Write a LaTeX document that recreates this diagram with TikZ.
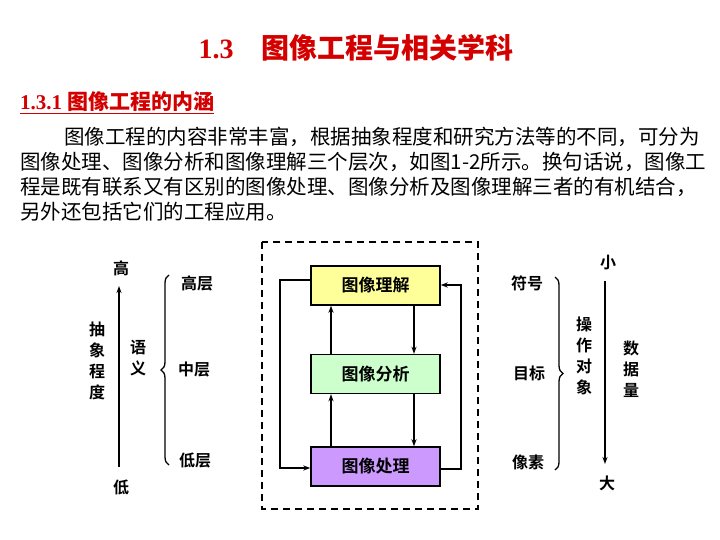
\documentclass[tikz,border=0pt]{standalone}
\usepackage{fontspec}
\setmainfont{Liberation Serif}
\newfontfamily\cjk{Noto Sans CJK SC}
\newfontfamily\cjkb{Noto Sans CJK SC Bold}
\usetikzlibrary{decorations.pathreplacing,arrows.meta}
\definecolor{ttl}{HTML}{D40000}
\definecolor{ylw}{HTML}{FFFF99}
\definecolor{grn}{HTML}{CCFFCC}
\definecolor{prp}{HTML}{CC99FF}
\begin{document}
\begin{tikzpicture}[x=1pt,y=-1pt,
  lbl/.style={font=\fontsize{16}{18}\selectfont\cjkb, inner sep=0pt},
  vlbl/.style={font=\fontsize{16}{21}\selectfont\cjkb, inner sep=0pt, align=center},
  box/.style={draw, line width=1.4pt, minimum width=129pt, minimum height=39pt, font=\fontsize{17}{19}\selectfont\cjkb},
  para/.style={font=\fontsize{20.5}{22}\selectfont\cjk, inner sep=0pt, anchor=west},
  arr/.style={line width=1.3pt, -{Stealth[length=7pt,width=5pt]}},
  brc/.style={line width=1.3pt, decorate, decoration={brace, amplitude=8pt, aspect=0.5}}]
\useasboundingbox[fill=white] (0,0) rectangle (720,540);
\node[text=ttl, font=\fontsize{28}{30}\selectfont\bfseries] (title) at (356,48) {1.3\quad{\cjkb 图像工程与相关学科}};
\node[text=ttl, anchor=west, inner sep=0pt, font=\fontsize{21}{23}\selectfont\bfseries] (sub) at (20,103) {\underline{1.3.1 {\cjkb 图像工程的内涵}}};
\node[para] (p1) at (64,137) {图像工程的内容非常丰富，根据抽象程度和研究方法等的不同，可分为};
\node[para] (p2) at (20,162) {图像处理、图像分析和图像理解三个层次，如图1-2所示。换句话说，图像工};
\node[para] (p3) at (20,187) {程是既有联系又有区别的图像处理、图像分析及图像理解三者的有机结合，};
\node[para] (p4) at (20,212) {另外还包括它们的工程应用。};
% dashed frame
\draw[line width=1.4pt, dash pattern=on 7pt off 5pt] (262,242) rectangle (478,509);
\node[box, fill=ylw] (und) at (375.5,285.5) {图像理解};
\node[box, fill=grn] (ana) at (375.5,374) {图像分析};
\node[box, fill=prp] (pro) at (375.5,466.5) {图像处理};
\draw[arr] (pro.north -| 331,0) -- (ana.south -| 331,0);
\draw[arr] (ana.north -| 331,0) -- (und.south -| 331,0);
\draw[arr] (und.south -| 414,0) -- (ana.north -| 414,0);
\draw[arr] (ana.south -| 414,0) -- (pro.north -| 414,0);
\coordinate (l1) at (280,280);
\coordinate (l2) at (280,468);
\draw[arr] (und.west |- l1) -- (l1) -- (l2) -- (pro.west |- l2);
\coordinate (r1) at (461,469);
\coordinate (r2) at (461,285);
\draw[arr] (pro.east |- r1) -- (r1) -- (r2) -- (und.east |- r2);
% left side
\node[lbl] (hi) at (121,268) {高};
\node[lbl] (lo) at (121,487) {低};
\draw[arr] (119,467) -- (119,286);
\node[vlbl] (cx) at (97,361) {抽\\象\\程\\度};
\node[vlbl] (yy) at (138,358) {语\\义};
\coordinate (bl1) at (169,275);
\coordinate (bl2) at (169,465);
\draw[brc] (bl2) -- (bl1);
\node[lbl] (gc) at (197,283) {高层};
\node[lbl] (zc) at (194,370) {中层};
\node[lbl] (dc) at (195,460) {低层};
% right side
\node[lbl] (fh) at (527,283) {符号};
\node[lbl] (mb) at (529,373) {目标};
\node[lbl] (xs) at (528,462) {像素};
\coordinate (br1) at (555,277);
\coordinate (br2) at (555,470);
\draw[brc] (br1) -- (br2);
\node[vlbl] (cz) at (584,356) {操\\作\\对\\象};
\node[lbl] (sm) at (608,263) {小};
\node[lbl] (bg) at (607,483) {大};
\draw[arr] (605,281) -- (605,464);
\node[vlbl] (sj) at (631,369) {数\\据\\量};
\end{tikzpicture}
\end{document}
